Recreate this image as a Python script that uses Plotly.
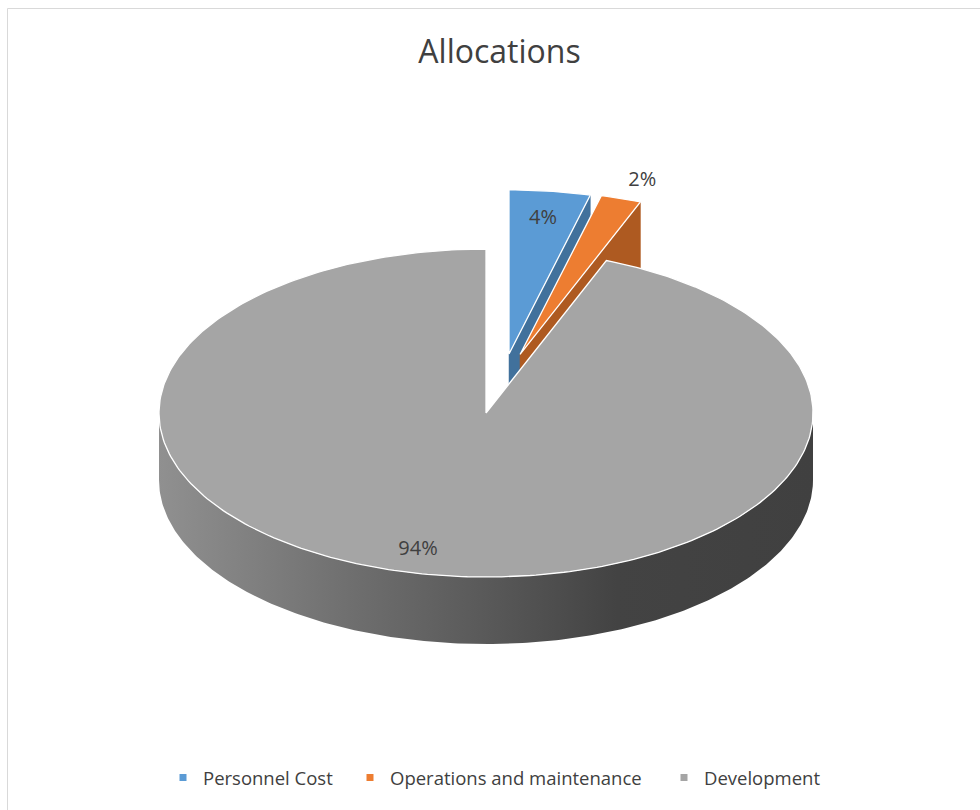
import numpy as np
import plotly.graph_objects as go

# ---- data -------------------------------------------------------------
categories = ["Personnel Cost", "Operations and maintenance", "Development"]
shares = [4, 2, 94]
value_labels = ["4%", "2%", "94%"]

# ---- styling ------------------------------------------------------------
top_colors = ["#5B9BD5", "#ED7D31", "#A5A5A5"]
side_colors = ["#41719C", "#AE5A21", "#7A7A7A"]
explode = [0.367, 0.372, 0.0]            # fraction of the radius
explode_turn = [3.85, -1.75, 0.0]        # degrees off the slice bisector
label_radius = [0.83, 1.12, 0.86]        # where each value label sits
label_angle_shift = [0.0, 1.5, 3.2]      # degrees, clockwise
legend_text_x = [203, 390, 704]          # left edge of each legend caption (px)

# projected geometry of the 3-D pie (pixel space)
CX, CY = 486.0, 413.0
RX, RY = 327.0, 164.0
DEPTH = 67.0
W, H = 980, 810
TEXT = "#404040"
FONT = "Open Sans"


def project(u, v, z, off):
    """Map in-plane unit coords (u east, v toward viewer) + depth z to pixels."""
    x = CX + RX * (np.asarray(u) + off[0])
    y = CY + RY * (np.asarray(v) + off[1]) + DEPTH * np.asarray(z)
    return x, y


def rim(t):
    return np.sin(t), -np.cos(t)


fig = go.Figure()

total = float(sum(shares))
bounds = np.cumsum([0.0] + [s / total * 2 * np.pi for s in shares])

slices = []
for i, name in enumerate(categories):
    t1, t2 = bounds[i], bounds[i + 1]
    mid = 0.5 * (t1 + t2)
    d = mid + np.radians(explode_turn[i])
    off = (explode[i] * np.sin(d), -explode[i] * np.cos(d))
    slices.append((i, t1, t2, mid, off))

# paint back-to-front
slices.sort(key=lambda s: -np.cos(s[3]) + s[4][1])

for i, t1, t2, mid, off in slices:
    # radial cut faces that look toward the viewer
    for t, visible in ((t2, np.sin(t2) > 1e-6), (t1, np.sin(t1) < -1e-6)):
        if visible:
            ru, rv = rim(t)
            xs, ys = project([0, ru, ru, 0, 0], [0, rv, rv, 0, 0], [0, 0, 1, 1, 0], off)
            fig.add_trace(go.Scatter(
                x=xs, y=ys, mode="lines", fill="toself",
                fillcolor=side_colors[i], line=dict(color=side_colors[i], width=0.5),
                hoverinfo="skip", showlegend=False))

    # outer wall (front half only)
    a, b = max(t1, np.pi / 2), min(t2, 3 * np.pi / 2)
    if a < b:
        ts = np.linspace(a, b, 240)
        u, v = rim(ts)
        uu = np.concatenate([u, u[::-1], u[:1]])
        vv = np.concatenate([v, v[::-1], v[:1]])
        zz = np.concatenate([np.zeros_like(u), np.ones_like(u), [0]])
        xs, ys = project(uu, vv, zz, off)
        fig.add_trace(go.Scatter(
            x=xs, y=ys, mode="lines", fill="toself",
            fillgradient=dict(type="horizontal", colorscale=[
                [0.00, "#909090"], [0.30, "#6E6E6E"], [0.52, "#575757"],
                [0.70, "#434343"], [1.00, "#404040"]]),
            line=dict(color="rgba(0,0,0,0)", width=0),
            hoverinfo="skip", showlegend=False))

    # top face
    ts = np.linspace(t1, t2, max(8, int((t2 - t1) / (2 * np.pi) * 360)))
    u, v = rim(ts)
    uu = np.concatenate([[0], u, [0]])
    vv = np.concatenate([[0], v, [0]])
    xs, ys = project(uu, vv, np.zeros_like(uu), off)
    fig.add_trace(go.Scatter(
        x=xs, y=ys, mode="lines", fill="toself",
        fillcolor=top_colors[i], line=dict(color="white", width=1.3),
        hoverinfo="skip", showlegend=False))

# value labels
for i, t1, t2, mid, off in sorted(slices):
    ang = mid + np.radians(label_angle_shift[i])
    r = label_radius[i]
    lx, ly = project(r * np.sin(ang), -r * np.cos(ang), 0, off)
    fig.add_trace(go.Scatter(
        x=[float(lx)], y=[float(ly)], mode="text", text=[value_labels[i]],
        textposition="middle center",
        textfont=dict(family=FONT, size=20, color=TEXT),
        hoverinfo="skip", showlegend=False))

# legend entries, one small legend per category so spacing can be set
legend_layouts = {}
for i, name in enumerate(categories):
    key = "legend" if i == 0 else f"legend{i + 1}"
    fig.add_trace(go.Scatter(
        x=[None], y=[None], mode="markers", name=name, legend=key,
        marker=dict(symbol="square", size=7, color=top_colors[i]),
        hoverinfo="skip", showlegend=True))
    legend_layouts[key] = dict(
        orientation="h", x=(legend_text_x[i] - 40) / W, xanchor="left",
        y=1 - 778 / H, yanchor="middle",
        font=dict(family=FONT, size=18.5, color=TEXT),
        bgcolor="rgba(0,0,0,0)", itemwidth=30)

fig.update_layout(
    width=W, height=H, autosize=False,
    margin=dict(l=0, r=0, t=0, b=0),
    paper_bgcolor="white", plot_bgcolor="white",
    title=dict(text="Allocations", x=499.5 / W, xanchor="center",
               y=1 - 52 / H, yanchor="middle",
               font=dict(family=FONT, size=32, color=TEXT)),
    xaxis=dict(range=[0, W], visible=False, fixedrange=True),
    yaxis=dict(range=[H, 0], visible=False, fixedrange=True),
    shapes=[dict(type="rect", xref="x", yref="y",
                 x0=7.5, y0=8.5, x1=W + 20, y1=H + 20,
                 line=dict(color="#D9D9D9", width=1), fillcolor="rgba(0,0,0,0)",
                 layer="below")],
    showlegend=True,
    **legend_layouts,
)

fig.write_html("out.html")
